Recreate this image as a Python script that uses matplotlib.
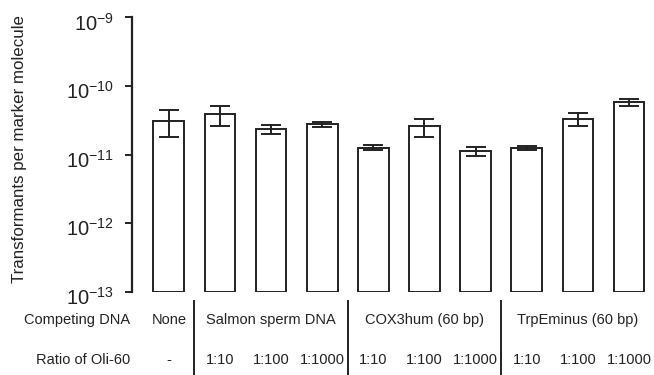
import matplotlib
matplotlib.use("Agg")
import matplotlib.pyplot as plt
import matplotlib.transforms as mtrans
import numpy as np

plt.rcParams['font.family'] = ['Liberation Sans', 'DejaVu Sans']
plt.rcParams['mathtext.fontset'] = 'custom'
plt.rcParams['mathtext.rm'] = 'Liberation Sans'
plt.rcParams['mathtext.it'] = 'Liberation Sans:italic'
plt.rcParams['mathtext.bf'] = 'Liberation Sans:bold'

# Data
competing = ["None", "Salmon sperm DNA", "COX3hum (60 bp)", "TrpEminus (60 bp)"]
group_sizes = [1, 3, 3, 3]
ratios = ["-", "1:10", "1:100", "1:1000", "1:10", "1:100", "1:1000", "1:10", "1:100", "1:1000"]
values = [3.13e-11, 3.85e-11, 2.35e-11, 2.75e-11, 1.26e-11, 2.57e-11, 1.13e-11, 1.26e-11, 3.30e-11, 5.80e-11]
errors = [1.30e-11, 1.25e-11, 0.37e-11, 0.20e-11, 0.10e-11, 0.78e-11, 0.16e-11, 0.08e-11, 0.73e-11, 0.67e-11]
ytick_vals = [1e-13, 1e-12, 1e-11, 1e-10, 1e-9]
ytick_labels = [r"$10^{-13}$", r"$10^{-12}$", r"$10^{-11}$", r"$10^{-10}$", r"$10^{-9}$"]

W, H = 654, 375
dpi = 100
fig = plt.figure(figsize=(W / dpi, H / dpi), dpi=dpi)
left, right, top, bottom = 132, 650, 17.5, 291.7
ax = fig.add_axes([left / W, 1 - bottom / H, (right - left) / W, (bottom - top) / H])

ec = '#222222'
x = np.arange(len(values))
base = 1e-13
ax.bar(x, np.array(values) - base, bottom=base, width=0.6, facecolor='white',
       edgecolor=ec, linewidth=1.4, zorder=2)
ax.errorbar(x, values, yerr=errors, fmt='none', ecolor=ec, elinewidth=1.4,
            capsize=7.5, capthick=1.4, zorder=3)

ax.set_yscale('log')
ax.set_ylim(1e-13, 1e-9)
ax.set_xlim(-0.72, 9.41)
ax.set_yticks(ytick_vals)
ax.set_yticklabels(ytick_labels, fontsize=14.5, color='#222222')
ax.yaxis.set_minor_locator(matplotlib.ticker.NullLocator())
ax.tick_params(axis='y', length=5, width=1.4, color=ec, pad=8)
shift = mtrans.ScaledTranslation(0, -3 / 72, fig.dpi_scale_trans)
for lab in ax.get_yticklabels():
    lab.set_transform(lab.get_transform() + shift)
ax.set_xticks([])
for s in ['top', 'right', 'bottom']:
    ax.spines[s].set_visible(False)
ax.spines['left'].set_linewidth(1.6)
ax.spines['left'].set_color(ec)

ax.set_ylabel("Transformants per marker molecule", fontsize=12.2, color='#222222')
ax.yaxis.set_label_coords((27 - left) / (right - left), (bottom - 149) / (bottom - top))

# Category rows below the axis
trans = mtrans.blended_transform_factory(ax.transData, fig.transFigure)
row1_y = 1 - 320 / H
row2_y = 1 - 360 / H
fs = 10.5
start = 0
for name, n in zip(competing, group_sizes):
    cx = start + (n - 1) / 2
    ax.text(cx, row1_y, name, transform=trans, ha='center', va='center', fontsize=fs, color='#222222')
    start += n
for i, r in enumerate(ratios):
    ax.text(x[i], row2_y, r, transform=trans, ha='center', va='center', fontsize=fs, color='#222222')

fig.text(130 / W, row1_y, "Competing DNA", ha='right', va='center', fontsize=fs, color='#222222')
fig.text(130 / W, row2_y, "Ratio of Oli-60", ha='right', va='center', fontsize=fs, color='#222222')

# Separators
cum = np.cumsum(group_sizes)[:-1]
for c in cum:
    ax.plot([c - 0.5, c - 0.5], [1 - 301 / H, 0], transform=trans, color=ec,
            linewidth=1.4, clip_on=False)

fig.savefig("out.png", dpi=dpi)
